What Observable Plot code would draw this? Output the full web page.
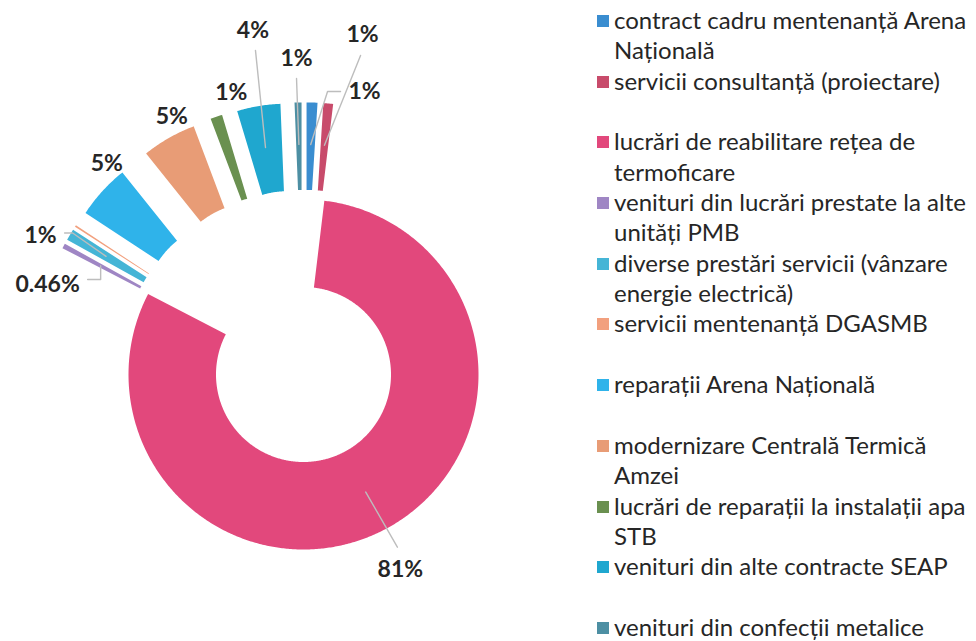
<!DOCTYPE html>
<html>
<head>
<meta charset="utf-8">
<script src="https://cdn.jsdelivr.net/npm/d3@7"></script>
<script src="https://cdn.jsdelivr.net/npm/@observablehq/plot@0.6"></script>
<style>
  html, body { margin: 0; padding: 0; background: #ffffff; }
  #wrap { position: relative; width: 976px; height: 641px; overflow: hidden; font-family: Lato, "Open Sans", sans-serif; }
  #chart { position: absolute; left: 0; top: 0; }
  #legend { position: absolute; left: 597px; top: 5px; width: 379px; }
  .item { position: relative; height: 60.7px; padding-left: 17px; font-size: 24px; line-height: 30.4px; color: #262626; white-space: pre; }
  .sw { position: absolute; left: 0; top: 10px; width: 12px; height: 12px; }
</style>
</head>
<body>
<div id="wrap">
  <div id="chart"></div>
  <div id="legend"></div>
</div>
<script>
// ---------------- data ----------------
const categories = [
  "contract cadru mentenanță Arena Națională",
  "servicii consultanță (proiectare)",
  "lucrări de reabilitare rețea de termoficare",
  "venituri din lucrări prestate la alte unități PMB",
  "diverse prestări servicii (vânzare energie electrică)",
  "servicii mentenanță DGASMB",
  "reparații Arena Națională",
  "modernizare Centrală Termică Amzei",
  "lucrări de reparații la instalații apa STB",
  "venituri din alte contracte SEAP",
  "venituri din confecții metalice"
];
const legendLabels = [
  "contract cadru mentenanță Arena\nNațională",
  "servicii consultanță (proiectare)",
  "lucrări de reabilitare rețea de\ntermoficare",
  "venituri din lucrări prestate la alte\nunități PMB",
  "diverse prestări servicii (vânzare\nenergie electrică)",
  "servicii mentenanță DGASMB",
  "reparații Arena Națională",
  "modernizare Centrală Termică\nAmzei",
  "lucrări de reparații la instalații apa\nSTB",
  "venituri din alte contracte SEAP",
  "venituri din confecții metalice"
];
const values = [1.0, 0.9, 80.7, 0.46, 1.05, 0.15, 5.0, 5.0, 1.1, 4.0, 0.64];
const pctLabels = ["1%", "1%", "81%", "0.46%", "1%", "", "5%", "5%", "1%", "4%", "1%"];
const colors = ["#3a8dd0", "#c84b6b", "#e2487c", "#9f86c4", "#45b5d6", "#f2a07e",
                "#2fb3ea", "#e89c76", "#6a9050", "#1fa7cf", "#4d8fa3"];

// ---------------- layout ----------------
const W = 590, H = 641;
const CX = 303, CY = 374, PPU = 175;   // pixel centre of main ring, pixels per unit radius
const R_IN = 0.5, EXPLODE = 0.555, LEADER_R = 0.76;
// label offsets from each slice's outer midpoint (px, screen coords)
const labelOffsets = [[52.5, -11], [34.3, -69], [15, 40], [-16, 38.5], [-29.4, 1.3], null,
                      [4.5, -28], [3, -21.7], [15, -24], [-5.6, -75.7], [-1.5, -44]];
// leader elbow points relative to label centre (px)
const leaderPts = [[[-24, 0], [-37, 0]], [[-2, 21]], [[-3, -22]], [[40, -5], [53, -5]],
                   [[24, -3], [32, -3]], null, null, null, null, [[2.5, 20]], [[0, 20]]];

// ---------------- geometry ----------------
const total = d3.sum(values);
const vmax = d3.max(values);
let acc = 0;
const slices = values.map((v, i) => {
  const a0 = acc / total * 2 * Math.PI; acc += v;
  const a1 = acc / total * 2 * Math.PI;
  const m = (a0 + a1) / 2;
  const e = v === vmax ? 0 : EXPLODE;
  return {i, name: categories[i], a0, a1, m, ox: e * Math.sin(m), oy: e * Math.cos(m)};
});

const pts = [];
for (const s of slices) {
  const n = Math.max(4, Math.ceil((s.a1 - s.a0) * 180 / Math.PI * 2));
  for (let k = 0; k <= n; k++) {
    const a = s.a0 + (s.a1 - s.a0) * k / n;
    pts.push({name: s.name, x: s.ox + Math.sin(a), y: s.oy + Math.cos(a)});
  }
  for (let k = n; k >= 0; k--) {
    const a = s.a0 + (s.a1 - s.a0) * k / n;
    pts.push({name: s.name, x: s.ox + R_IN * Math.sin(a), y: s.oy + R_IN * Math.cos(a)});
  }
}

const labels = [];
const leaders = [];
slices.forEach((s, i) => {
  if (!labelOffsets[i] || !pctLabels[i]) return;
  const bx = s.ox + Math.sin(s.m), by = s.oy + Math.cos(s.m);
  const lx = bx + labelOffsets[i][0] / PPU, ly = by - labelOffsets[i][1] / PPU;
  labels.push({x: lx, y: ly, text: pctLabels[i]});
  if (leaderPts[i]) {
    leaderPts[i].forEach(p => leaders.push({id: i, x: lx + p[0] / PPU, y: ly - p[1] / PPU}));
    leaders.push({id: i, x: s.ox + LEADER_R * Math.sin(s.m), y: s.oy + LEADER_R * Math.cos(s.m)});
  }
});

const chart = Plot.plot({
  width: W, height: H,
  margin: 0,
  x: {domain: [-CX / PPU, (W - CX) / PPU], range: [0, W], axis: null},
  y: {domain: [-(H - CY) / PPU, CY / PPU], range: [H, 0], axis: null},
  color: {domain: categories, range: colors},
  style: {background: "#ffffff"},
  marks: [
    Plot.line(pts, {x: "x", y: "y", z: "name", fill: "name", stroke: "none", curve: "linear"}),
    Plot.line(leaders, {x: "x", y: "y", z: "id", stroke: "#bdbdbd", strokeWidth: 1.4, curve: "linear"}),
    Plot.text(labels, {x: "x", y: "y", text: "text", fontSize: 23, fontWeight: "bold",
                       fontFamily: "Lato, 'Open Sans', sans-serif", fill: "#262626"})
  ]
});
document.getElementById("chart").appendChild(chart);

// ---------------- legend ----------------
const legend = document.getElementById("legend");
legendLabels.forEach((t, i) => {
  const item = document.createElement("div");
  item.className = "item";
  const sw = document.createElement("span");
  sw.className = "sw";
  sw.style.background = colors[i];
  item.appendChild(sw);
  item.appendChild(document.createTextNode(t));
  legend.appendChild(item);
});
</script>
</body>
</html>
